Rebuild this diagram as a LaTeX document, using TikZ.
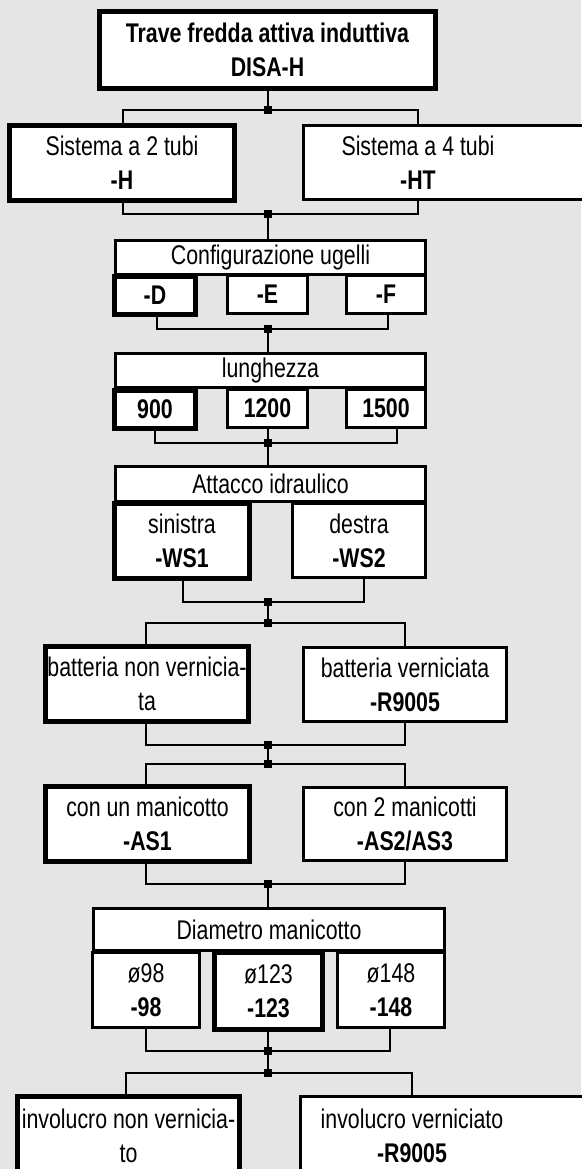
\documentclass[tikz,border=0pt]{standalone}
\usepackage{fontspec}
\setmainfont[FakeStretch=0.79]{Liberation Sans}
\usetikzlibrary{calc}
\definecolor{bg}{HTML}{E5E5E5}
\begin{document}
\begin{tikzpicture}[x=1pt,y=-1pt,
  box/.style={draw, line width=2.6pt, fill=white, inner sep=0pt, align=center, font=\fontsize{27}{34}\selectfont},
  sel/.style={line width=4.6pt},
  lbl/.style={inner sep=0pt, align=center, font=\fontsize{27}{34}\selectfont},
  conn/.style={line width=2.6pt},
  jct/.style={fill=black, minimum size=8pt, inner sep=0pt, rectangle}]
\fill[bg] (0,0) rectangle (581,1169);
\useasboundingbox (0,0) rectangle (581,1169);

% level 1
\node[box,sel,minimum width=336.4pt,minimum height=77.4pt] (top) at (267.5,50) {\textbf{Trave fredda attiva induttiva}\\\textbf{DISA-H}};
% level 2
\node[box,sel,minimum width=225.4pt,minimum height=75.4pt] (sys2) at (122,163) {Sistema a 2 tubi\\\textbf{-H}};
\node[box,minimum width=315.4pt,minimum height=74.4pt] (sys4) at (461,162.5) {};
\node[lbl] (sys4t) at (418,162.5) {Sistema a 4 tubi\\\textbf{-HT}};
% level 3
\node[box,minimum width=310.4pt,minimum height=34.4pt] (cfg) at (270.5,257.5) {Configurazione ugelli};
\node[box,sel,minimum width=81.4pt,minimum height=38.4pt] (d) at (155,295.5) {\textbf{-D}};
\node[box,minimum width=80.4pt,minimum height=37.4pt] (e) at (267.5,294.5) {\textbf{-E}};
\node[box,minimum width=79.4pt,minimum height=37.4pt] (f) at (386,294.5) {\textbf{-F}};
% level 4
\node[box,minimum width=310.4pt,minimum height=34.4pt] (lng) at (270.5,370.5) {lunghezza};
\node[box,sel,minimum width=81.4pt,minimum height=38.4pt] (b900) at (155,409.5) {\textbf{900}};
\node[box,minimum width=80.4pt,minimum height=37.4pt] (b1200) at (267.5,408.5) {\textbf{1200}};
\node[box,minimum width=79.4pt,minimum height=37.4pt] (b1500) at (386,408.5) {\textbf{1500}};
% level 5
\node[box,minimum width=310.4pt,minimum height=35.4pt] (att) at (270.5,484) {Attacco idraulico};
\node[box,sel,minimum width=135.4pt,minimum height=75.4pt] (sin) at (182,541) {sinistra\\\textbf{-WS1}};
\node[box,minimum width=133.4pt,minimum height=74.4pt] (des) at (359,540.5) {destra\\\textbf{-WS2}};
% level 6
\node[box,sel,minimum width=203.4pt,minimum height=75.4pt] (bat1) at (147,684) {batteria non vernicia-\\ta};
\node[box,minimum width=203.4pt,minimum height=74.4pt] (bat2) at (405,684.5) {batteria verniciata\\\textbf{-R9005}};
% level 7
\node[box,sel,minimum width=204.4pt,minimum height=75.4pt] (man1) at (147.5,824) {con un manicotto\\\textbf{-AS1}};
\node[box,minimum width=203.4pt,minimum height=73.4pt] (man2) at (405,824) {con 2 manicotti\\\textbf{-AS2/AS3}};
% level 8
\node[box,minimum width=351.4pt,minimum height=42.4pt] (dia) at (269,929.5) {Diametro manicotto};
\node[box,minimum width=107.4pt,minimum height=75.4pt] (d98) at (146,990) {ø98\\\textbf{-98}};
\node[box,sel,minimum width=108.4pt,minimum height=77.4pt] (d123) at (268.5,991) {ø123\\\textbf{-123}};
\node[box,minimum width=107.4pt,minimum height=75.4pt] (d148) at (391,990) {ø148\\\textbf{-148}};
% level 9
\node[box,sel,minimum width=222.4pt,minimum height=101.4pt] (inv1) at (128.5,1147) {};
\node[lbl] (inv1t) at (128.5,1136) {involucro non vernicia-\\to};
\node[box,minimum width=315.4pt,minimum height=101.4pt] (inv2) at (458,1147) {};
\node[lbl] (inv2t) at (412,1136) {involucro verniciato\\\textbf{-R9005}};

% junctions
\node[jct] (j1) at (268,110) {};
\node[jct] (j2) at (268,214) {};
\node[jct] (j3) at (268,329) {};
\node[jct] (j4) at (268,443) {};
\node[jct] (j5) at (268,602) {};
\node[jct] (j6) at (268,623) {};
\node[jct] (j7) at (268,745) {};
\node[jct] (j8) at (268,764) {};
\node[jct] (j9) at (268,884) {};
\node[jct] (j10) at (268,1051) {};
\node[jct] (j11) at (268,1073) {};

% connectors
\draw[conn] (top.south -| j1.center) -- (j1.center);
\draw[conn] ([xshift=1pt]sys2.north) |- (j1.center) -| (sys4t |- sys4.north);
\draw[conn] ([xshift=1pt]sys2.south) |- (j2.center) -| (sys4t |- sys4.south);
\draw[conn] (j2.center) -- (j2.center |- cfg.north);
\draw[conn] ([xshift=2pt]d.south) |- (j3.center) -| ([xshift=2pt]f.south);
\draw[conn] (j3.center) -- (j3.center |- lng.north);
\draw[conn] (b900.south) |- (j4.center) -| ([xshift=11pt]b1500.south);
\draw[conn] (b1200.south -| j4.center) -- (j4.center);
\draw[conn] (j4.center) -- (j4.center |- att.north);
\draw[conn] ([xshift=1pt]sin.south) |- (j5.center) -| ([xshift=5pt]des.south);
\draw[conn] (j5.center) -- (j6.center);
\draw[conn] ([xshift=-1pt]bat1.north) |- (j6.center) -| (bat2.north);
\draw[conn] ([xshift=-1pt]bat1.south) |- (j7.center) -| (bat2.south);
\draw[conn] (j7.center) -- (j8.center);
\draw[conn] ([xshift=-1.5pt]man1.north) |- (j8.center) -| (man2.north);
\draw[conn] ([xshift=-1.5pt]man1.south) |- (j9.center) -| (man2.south);
\draw[conn] (j9.center) -- (j9.center |- dia.north);
\draw[conn] (d98.south) |- (j10.center) -| ([xshift=-1pt]d148.south);
\draw[conn] (d123.south -| j10.center) -- (j10.center);
\draw[conn] (j10.center) -- (j11.center);
\draw[conn] ([xshift=-2.5pt]inv1.north) |- (j11.center) -| (inv2t |- inv2.north);
\end{tikzpicture}
\end{document}
